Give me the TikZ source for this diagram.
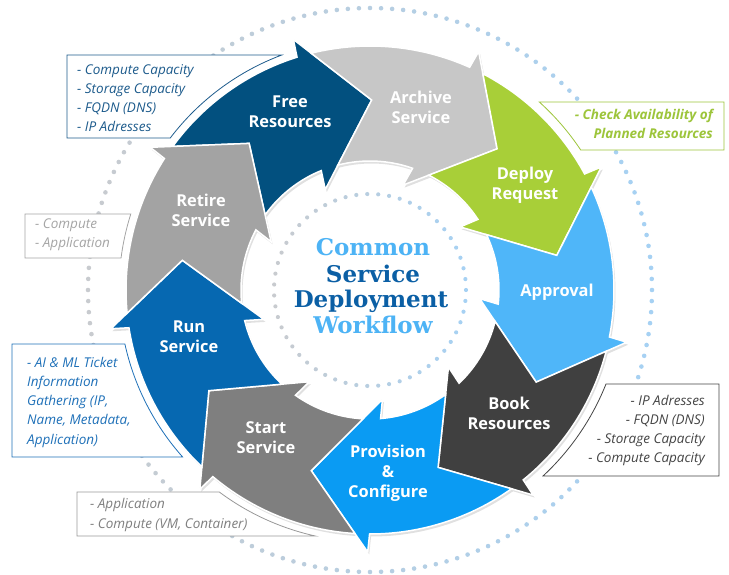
\documentclass[tikz,border=0pt]{standalone}
\usepackage{fontspec}
\setmainfont{Open Sans}
\newfontfamily\titlefont{DejaVu Serif}
\usetikzlibrary{calc}
\definecolor{cFree}{HTML}{02507F}
\definecolor{cArch}{HTML}{C7C7C7}
\definecolor{cDeploy}{HTML}{A8CF38}
\definecolor{cAppr}{HTML}{4FB6F9}
\definecolor{cBook}{HTML}{404040}
\definecolor{cProv}{HTML}{0A9BF3}
\definecolor{cStart}{HTML}{7F7F7F}
\definecolor{cRun}{HTML}{0668B1}
\definecolor{cRetire}{HTML}{A3A3A3}
\definecolor{dotB}{HTML}{A6D1F3}
\definecolor{dotG}{HTML}{C8CBCF}
\definecolor{tLight}{HTML}{4DB3F5}
\definecolor{tDark}{HTML}{0B5FA5}
\definecolor{nBlueDark}{HTML}{1D5B8C}
\definecolor{nGreyLight}{HTML}{A5A5A5}
\definecolor{nBlue}{HTML}{1E70B8}
\definecolor{nGrey}{HTML}{7F7F7F}
\definecolor{nGreen}{HTML}{9DC53B}
\definecolor{nDark}{HTML}{444444}
\newcommand\ringarrow[3]{%
  \pgfmathsetmacro\aA{#2+14.45}%
  \pgfmathsetmacro\aB{#3+17.9}%
  \pgfmathsetmacro\aC{#3+17.5}%
  \pgfmathsetmacro\aD{#3+24.5}%
  \pgfmathsetmacro\aE{#3+22.7}%
  \pgfmathsetmacro\aF{#2+14.9}%
  \path[#1] (\aA:244) arc[start angle=\aA, end angle=\aB, radius=244]
    -- (\aC:262) -- (#3:190) -- (\aD:110) -- (\aE:129)
    arc[start angle=\aE, end angle=\aF, radius=129] -- (#2:190) -- cycle;}
\tikzset{
  arrowst/.style={draw=white, line width=1.5pt, line join=miter},
  shadowst/.style={fill=black, opacity=0.12, shift={(1.5,-2.5)}},
  lbl/.style={text=white, font=\bfseries\fontsize{16.4}{20}\selectfont, align=center, inner sep=0pt},
  ttl/.style={font=\titlefont\bfseries\fontsize{23}{27}\selectfont, inner sep=0pt, anchor=base},
  callout/.style={fill=white, line width=0.8pt},
  note/.style={font=\itshape\fontsize{13.5}{15}\selectfont, inner sep=0pt}
}
\begin{document}
\begin{tikzpicture}[x=1pt,y=1pt]
\useasboundingbox (-370,-284) rectangle (359,290);
% dotted circles
\foreach \i in {0,...,159}{
  \pgfmathsetmacro\ang{\i*2.25}
  \pgfmathsetmacro\mix{50+50*cos(\ang)}
  \fill[dotB!\mix!dotG] (\ang:282) circle[radius=2.3];
}
\foreach \i in {0,...,54}{
  \pgfmathsetmacro\ang{\i*6.54545}
  \pgfmathsetmacro\mix{50+50*cos(\ang)}
  \fill[dotB!\mix!dotG] (\ang:96) circle[radius=2.1];
}
% callout boxes
\path[callout, draw=nBlueDark] (-303,235) -- (-88.2,235) arc[start angle=110.57, end angle=142.72, radius=251] -- (-303,152) -- cycle;
\path[callout, draw=nGreyLight] (-345,76) -- (-239.2,76) arc[start angle=162.37, end angle=172.68, radius=251] -- (-345,32) -- cycle;
\path[callout, draw=nBlue] (-358,-54) -- (-245.1,-54) arc[start angle=192.43, end angle=221.7, radius=251] -- (-358,-167) -- cycle;
\path[callout, draw=nGrey!80] (-293,-202) -- (-150.7,-202) arc[start angle=233.28, end angle=257.46, radius=252] -- (-293,-246) -- cycle;
\path[callout, draw=nGreen] (354,188) -- (169.3,188) arc[start angle=48.0, end angle=33.6, radius=253] -- (354,140) -- cycle;
\path[callout, draw=nDark] (349,-94) -- (236,-94) arc[start angle=-21.72, end angle=-47.08, radius=254] -- (349,-186) -- cycle;
% shadows
\ringarrow{shadowst}{129.5}{89.5}
\ringarrow{shadowst}{89.5}{48}
\ringarrow{shadowst}{48}{10.5}
\ringarrow{shadowst}{10.5}{-29}
\ringarrow{shadowst}{-29}{-69}
\ringarrow{shadowst}{-69}{-108}
\ringarrow{shadowst}{-108}{-148}
\ringarrow{shadowst}{-148}{-189}
\ringarrow{shadowst}{-189}{-230.5}
% arrows
\ringarrow{arrowst, fill=cFree}{129.5}{89.5}
\ringarrow{arrowst, fill=cArch}{89.5}{48}
\ringarrow{arrowst, fill=cDeploy}{48}{10.5}
\ringarrow{arrowst, fill=cAppr}{10.5}{-29}
\ringarrow{arrowst, fill=cBook}{-29}{-69}
\ringarrow{arrowst, fill=cProv}{-69}{-108}
\ringarrow{arrowst, fill=cStart}{-108}{-148}
\ringarrow{arrowst, fill=cRun}{-148}{-189}
\ringarrow{arrowst, fill=cRetire}{-189}{-230.5}
% labels
\node[lbl] (lFree) at (-80,178) {Free\\Resources};
\node[lbl] (lArch) at (51,183) {Archive\\Service};
\node[lbl] (lDeploy) at (155,105) {Deploy\\Request};
\node[lbl] (lAppr) at (187,-2) {Approval};
\node[lbl] (lBook) at (139,-123) {Book\\Resources};
\node[lbl] (lProv) at (18,-183) {Provision\\\&\\Configure};
\node[lbl] (lStart) at (-104,-148) {Start\\Service};
\node[lbl] (lRun) at (-181,-47) {Run\\Service};
\node[lbl] (lRetire) at (-169,80) {Retire\\Service};
% title
\node[ttl, text=tLight] (t1) at (3,35) {Common};
\node[ttl, text=tDark] (t2) at (3,8) {Service};
\node[ttl, text=tDark] (t3) at (1,-17) {Deployment};
\node[ttl, text=tLight] (t4) at (3,-43) {Workflow};
% notes
\foreach \t [count=\i] in {- Compute Capacity, - Storage Capacity, - FQDN (DNS), - IP Adresses}
  \node[note, text=nBlueDark, anchor=base west] (na\i) at (-293,{216-19.3*(\i-1)}) {\t};
\foreach \t [count=\i] in {- Compute, - Application}
  \node[note, text=nGreyLight, anchor=base west] (nb\i) at (-335,{62-19*(\i-1)}) {\t};
\foreach \t [count=\i] in {- AI \& ML Ticket, Information, {Gathering (IP,}, {Name, Metadata,}, Application)}
  \node[note, text=nBlue, anchor=base west] (nc\i) at (-343,{-77-19.3*(\i-1)}) {\t};
\foreach \t [count=\i] in {- Application, {- Compute (VM, Container)}}
  \node[note, text=nGrey, anchor=base west] (nd\i) at (-280,{-218-20*(\i-1)}) {\t};
\foreach \t [count=\i] in {- Check Availability of, Planned Resources}
  \node[note, font=\bfseries\itshape\fontsize{13.5}{15}\selectfont, text=nGreen, anchor=base east] (ne\i) at (343,{171-19*(\i-1)}) {\t};
\foreach \t [count=\i] in {- IP Adresses, - FQDN (DNS), - Storage Capacity, - Compute Capacity}
  \node[note, text=nDark, anchor=base east] (nf\i) at (335,{-115-19.3*(\i-1)}) {\t};
\end{tikzpicture}
\end{document}
